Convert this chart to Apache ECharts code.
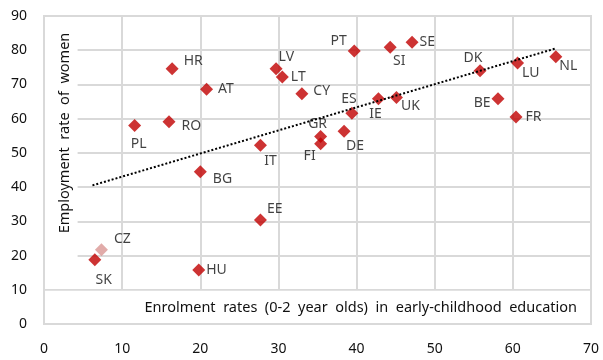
<!DOCTYPE html>
<html>
<head>
<meta charset="utf-8">
<script src="https://cdn.jsdelivr.net/npm/echarts@6/dist/echarts.min.js"></script>
<style>
  html, body { margin: 0; padding: 0; background: #fff; }
  #chart { width: 603px; height: 360px; }
</style>
</head>
<body>
<div id="chart"></div>
<script>
// enrolment (x) vs employment rate of women (y)
const countries = ['SK', 'HU', 'EE', 'PL', 'RO', 'HR', 'AT', 'BG', 'IT', 'LV', 'LT', 'CY', 'PT', 'SI',
  'SE', 'DK', 'LU', 'NL', 'ES', 'IE', 'UK', 'BE', 'FR', 'GR', 'FI', 'DE'];
const enrolment = [6.5, 19.8, 27.7, 11.6, 16.0, 16.4, 20.8, 20.0, 27.7, 29.7, 30.5, 33.0, 39.7, 44.3,
  47.1, 55.8, 60.6, 65.5, 39.4, 42.8, 45.1, 58.1, 60.4, 35.4, 35.4, 38.4];
const employment = [18.8, 15.8, 30.4, 58.0, 59.1, 74.6, 68.6, 44.5, 52.2, 74.6, 72.2, 67.3, 79.8, 80.9,
  82.3, 74.0, 76.3, 78.1, 61.6, 65.8, 66.2, 65.8, 60.5, 54.8, 52.7, 56.3];

// highlighted country (lighter marker)
const hlCountry = ['CZ'];
const hlEnrolment = [7.35];
const hlEmployment = [21.7];

// linear trend endpoints
const trendX = [6.2, 65.6];
const trendY = [40.5, 80.6];

const xTicks = [0, 70, 10];
const yTicks = [0, 90, 10];

// label placement: [position, dx, dy]
const labelPlace = {
  SK: ['bottom', 9, 2], HU: ['right', -4, 0], EE: ['right', -5, -11], PL: ['bottom', 4, 0],
  RO: ['right', 1, 4], HR: ['right', 0, -8], AT: ['right', 0, 0], BG: ['right', 1, 7],
  IT: ['bottom', 10, -3], LV: ['right', -9, -12], LT: ['right', -3, 0], CY: ['right', 0, -3],
  PT: ['left', 4, -10], SI: ['bottom', 9, -5], SE: ['right', -4, 0], DK: ['top', -7, 6],
  LU: ['right', -7, 10], NL: ['right', -8, 9], ES: ['top', -3, 4], IE: ['bottom', -3, -3],
  UK: ['right', -7, 9], BE: ['left', 4, 4], FR: ['right', -2, 0], GR: ['top', -3, 6],
  FI: ['bottom', -11, -6], DE: ['bottom', 11, -4], CZ: ['right', 1, -11]
};

const FONT = '"Noto Sans"';
const TEXT = '#111';

function pointData(names, xs, ys) {
  return names.map((n, i) => {
    const p = labelPlace[n] || ['right', 0, 0];
    return {
      name: n,
      value: [xs[i], ys[i]],
      label: { position: p[0], offset: [p[1], p[2]] }
    };
  });
}

const chart = echarts.init(document.getElementById('chart'), null, { renderer: 'canvas' });

chart.setOption({
  animation: false,
  textStyle: { fontFamily: FONT },
  grid: {
    left: 44, right: 12, top: 16, bottom: 36,
    show: true, z: 5,
    borderColor: '#d9d9d9', borderWidth: 2,
    backgroundColor: 'transparent'
  },
  xAxis: {
    type: 'value',
    min: xTicks[0], max: xTicks[1], interval: xTicks[2],
    axisLine: { show: false },
    axisTick: { show: false },
    axisLabel: { color: TEXT, fontSize: 14, margin: 18, fontFamily: FONT },
    splitLine: { lineStyle: { color: '#d9d9d9', width: 2 } }
  },
  yAxis: {
    type: 'value',
    min: yTicks[0], max: yTicks[1], interval: yTicks[2],
    axisLine: { show: false },
    axisTick: { show: false },
    axisLabel: { color: TEXT, fontSize: 14, margin: 17, fontFamily: FONT },
    splitLine: { lineStyle: { color: '#d9d9d9', width: 2 } }
  },
  graphic: [
    {
      type: 'text', z: 10,
      style: {
        text: 'Enrolment  rates  (0-2  year  olds)  in  early-childhood  education',
        x: 577, y: 308, align: 'right', verticalAlign: 'middle',
        fontFamily: FONT, fontSize: 14.5, fill: TEXT
      }
    },
    {
      type: 'text', z: 10,
      x: 65, y: 133, rotation: Math.PI / 2,
      style: {
        text: 'Employment  rate  of  women',
        align: 'center', verticalAlign: 'middle',
        fontFamily: FONT, fontSize: 14.5, fill: TEXT
      }
    }
  ],
  series: [
    {
      name: 'Trend',
      type: 'line',
      data: trendX.map((x, i) => [x, trendY[i]]),
      symbol: 'none',
      lineStyle: { color: '#000', width: 2, type: [2, 2] },
      markArea: {
        silent: true,
        itemStyle: { color: '#fff' },
        data: [
          [{ coord: [xTicks[0], 0.3] }, { coord: [xTicks[1], 9.7] }],
          [{ coord: [xTicks[0], 10.3] }, { coord: [4.3, yTicks[1]] }]
        ]
      }
    },
    {
      name: 'Countries',
      type: 'scatter',
      symbol: 'diamond',
      symbolSize: 13,
      itemStyle: { color: '#c00000' },
      label: {
        show: true, formatter: '{b}', color: TEXT, fontSize: 14,
        fontFamily: FONT, distance: 5
      },
      data: pointData(countries, enrolment, employment)
    },
    {
      name: 'Highlight',
      type: 'scatter',
      symbol: 'diamond',
      symbolSize: 13,
      itemStyle: { color: '#d99694' },
      label: {
        show: true, formatter: '{b}', color: TEXT, fontSize: 14,
        fontFamily: FONT, distance: 5
      },
      data: pointData(hlCountry, hlEnrolment, hlEmployment)
    }
  ]
});
</script>
</body>
</html>
